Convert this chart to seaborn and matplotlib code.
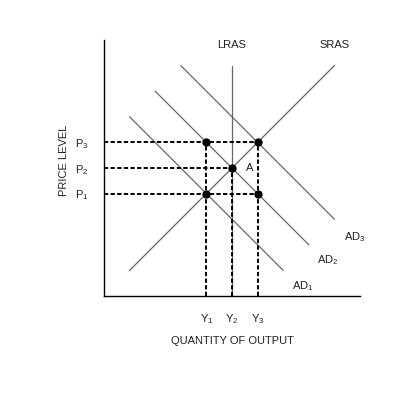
import pandas as pd
import matplotlib
matplotlib.use("Agg")
import matplotlib.pyplot as plt
import seaborn as sns


# --- Data ---
sras_x = [1, 9]
sras_y = [1, 9]
lras_x = [5, 5]
lras_y = [0, 9]
ad1_x = [1, 7]
ad1_y = [7, 1]
ad2_x = [2, 8]
ad2_y = [8, 2]
ad3_x = [3, 9]
ad3_y = [9, 3]

eq_x = [4, 6, 5, 4, 6]
eq_y = [6, 6, 5, 4, 4]

price_levels = [4, 5, 6]
price_labels = ["P$_1$", "P$_2$", "P$_3$"]
price_reach = [6, 5, 6]      # how far each dashed price line runs
output_levels = [4, 5, 6]
output_labels = ["Y$_1$", "Y$_2$", "Y$_3$"]
output_reach = [6, 5, 6]

curve_labels = ["LRAS", "SRAS", "AD$_3$", "AD$_2$", "AD$_1$", "A"]
label_x = [5.0, 9.0, 9.8, 8.75, 7.75, 5.7]
label_y = [9.8, 9.8, 2.3, 1.4, 0.4, 5.0]

curves = pd.concat([
    pd.DataFrame({"x": sras_x, "y": sras_y, "curve": "SRAS"}),
    pd.DataFrame({"x": lras_x, "y": lras_y, "curve": "LRAS"}),
    pd.DataFrame({"x": ad1_x, "y": ad1_y, "curve": "AD1"}),
    pd.DataFrame({"x": ad2_x, "y": ad2_y, "curve": "AD2"}),
    pd.DataFrame({"x": ad3_x, "y": ad3_y, "curve": "AD3"}),
])
points = pd.DataFrame({"x": eq_x, "y": eq_y})


# --- Plot styling ---
sns.set_theme(style="white")
plt.rcParams["font.family"] = ["Liberation Sans", "DejaVu Sans"]
plt.rcParams["mathtext.fontset"] = "custom"
plt.rcParams["mathtext.rm"] = "Liberation Sans"
plt.rcParams["mathtext.default"] = "regular"

fig = plt.figure(figsize=(4, 4), dpi=100)
ax = fig.add_axes([0.26, 0.26, 0.64, 0.64])

FS = 8
TXT = "#222222"
DASH = (0, (2.2, 1.2))


# --- Plot data ---
sns.lineplot(
    data=curves, x="x", y="y", units="curve", estimator=None,
    sort=False, color="#666666", linewidth=0.9, ax=ax
)

ax.hlines(price_levels, 0, price_reach, colors="black",
          linestyles=DASH, linewidth=1.4)
ax.vlines(output_levels, 0, output_reach, colors="black",
          linestyles=DASH, linewidth=1.4)

sns.scatterplot(data=points, x="x", y="y", color="black", s=36,
                edgecolor="black", linewidth=0, zorder=5, ax=ax)

for lab, lx, ly in zip(curve_labels, label_x, label_y):
    ax.text(lx, ly, lab, fontsize=FS, ha="center", va="center", color=TXT)


# --- Axes configuration ---
ax.set_xlim(0, 10)
ax.set_ylim(0, 10)

ax.set_xticks(output_levels)
ax.set_xticklabels(output_labels)
ax.set_yticks(price_levels)
ax.set_yticklabels(price_labels)

ax.tick_params(axis="both", length=0, labelsize=FS, colors=TXT)
ax.tick_params(axis="x", pad=12)
ax.tick_params(axis="y", pad=11)

ax.set_xlabel("QUANTITY OF OUTPUT", fontsize=FS, color=TXT)
ax.set_ylabel("PRICE LEVEL", fontsize=FS, color=TXT)
ax.xaxis.set_label_coords(0.5, -0.155)
ax.yaxis.set_label_coords(-0.135, 0.53)

for side in ["top", "right"]:
    ax.spines[side].set_visible(False)
for side in ["left", "bottom"]:
    ax.spines[side].set_color("black")
    ax.spines[side].set_linewidth(1)


# --- Render ---
fig.savefig("out.png", dpi=100)
